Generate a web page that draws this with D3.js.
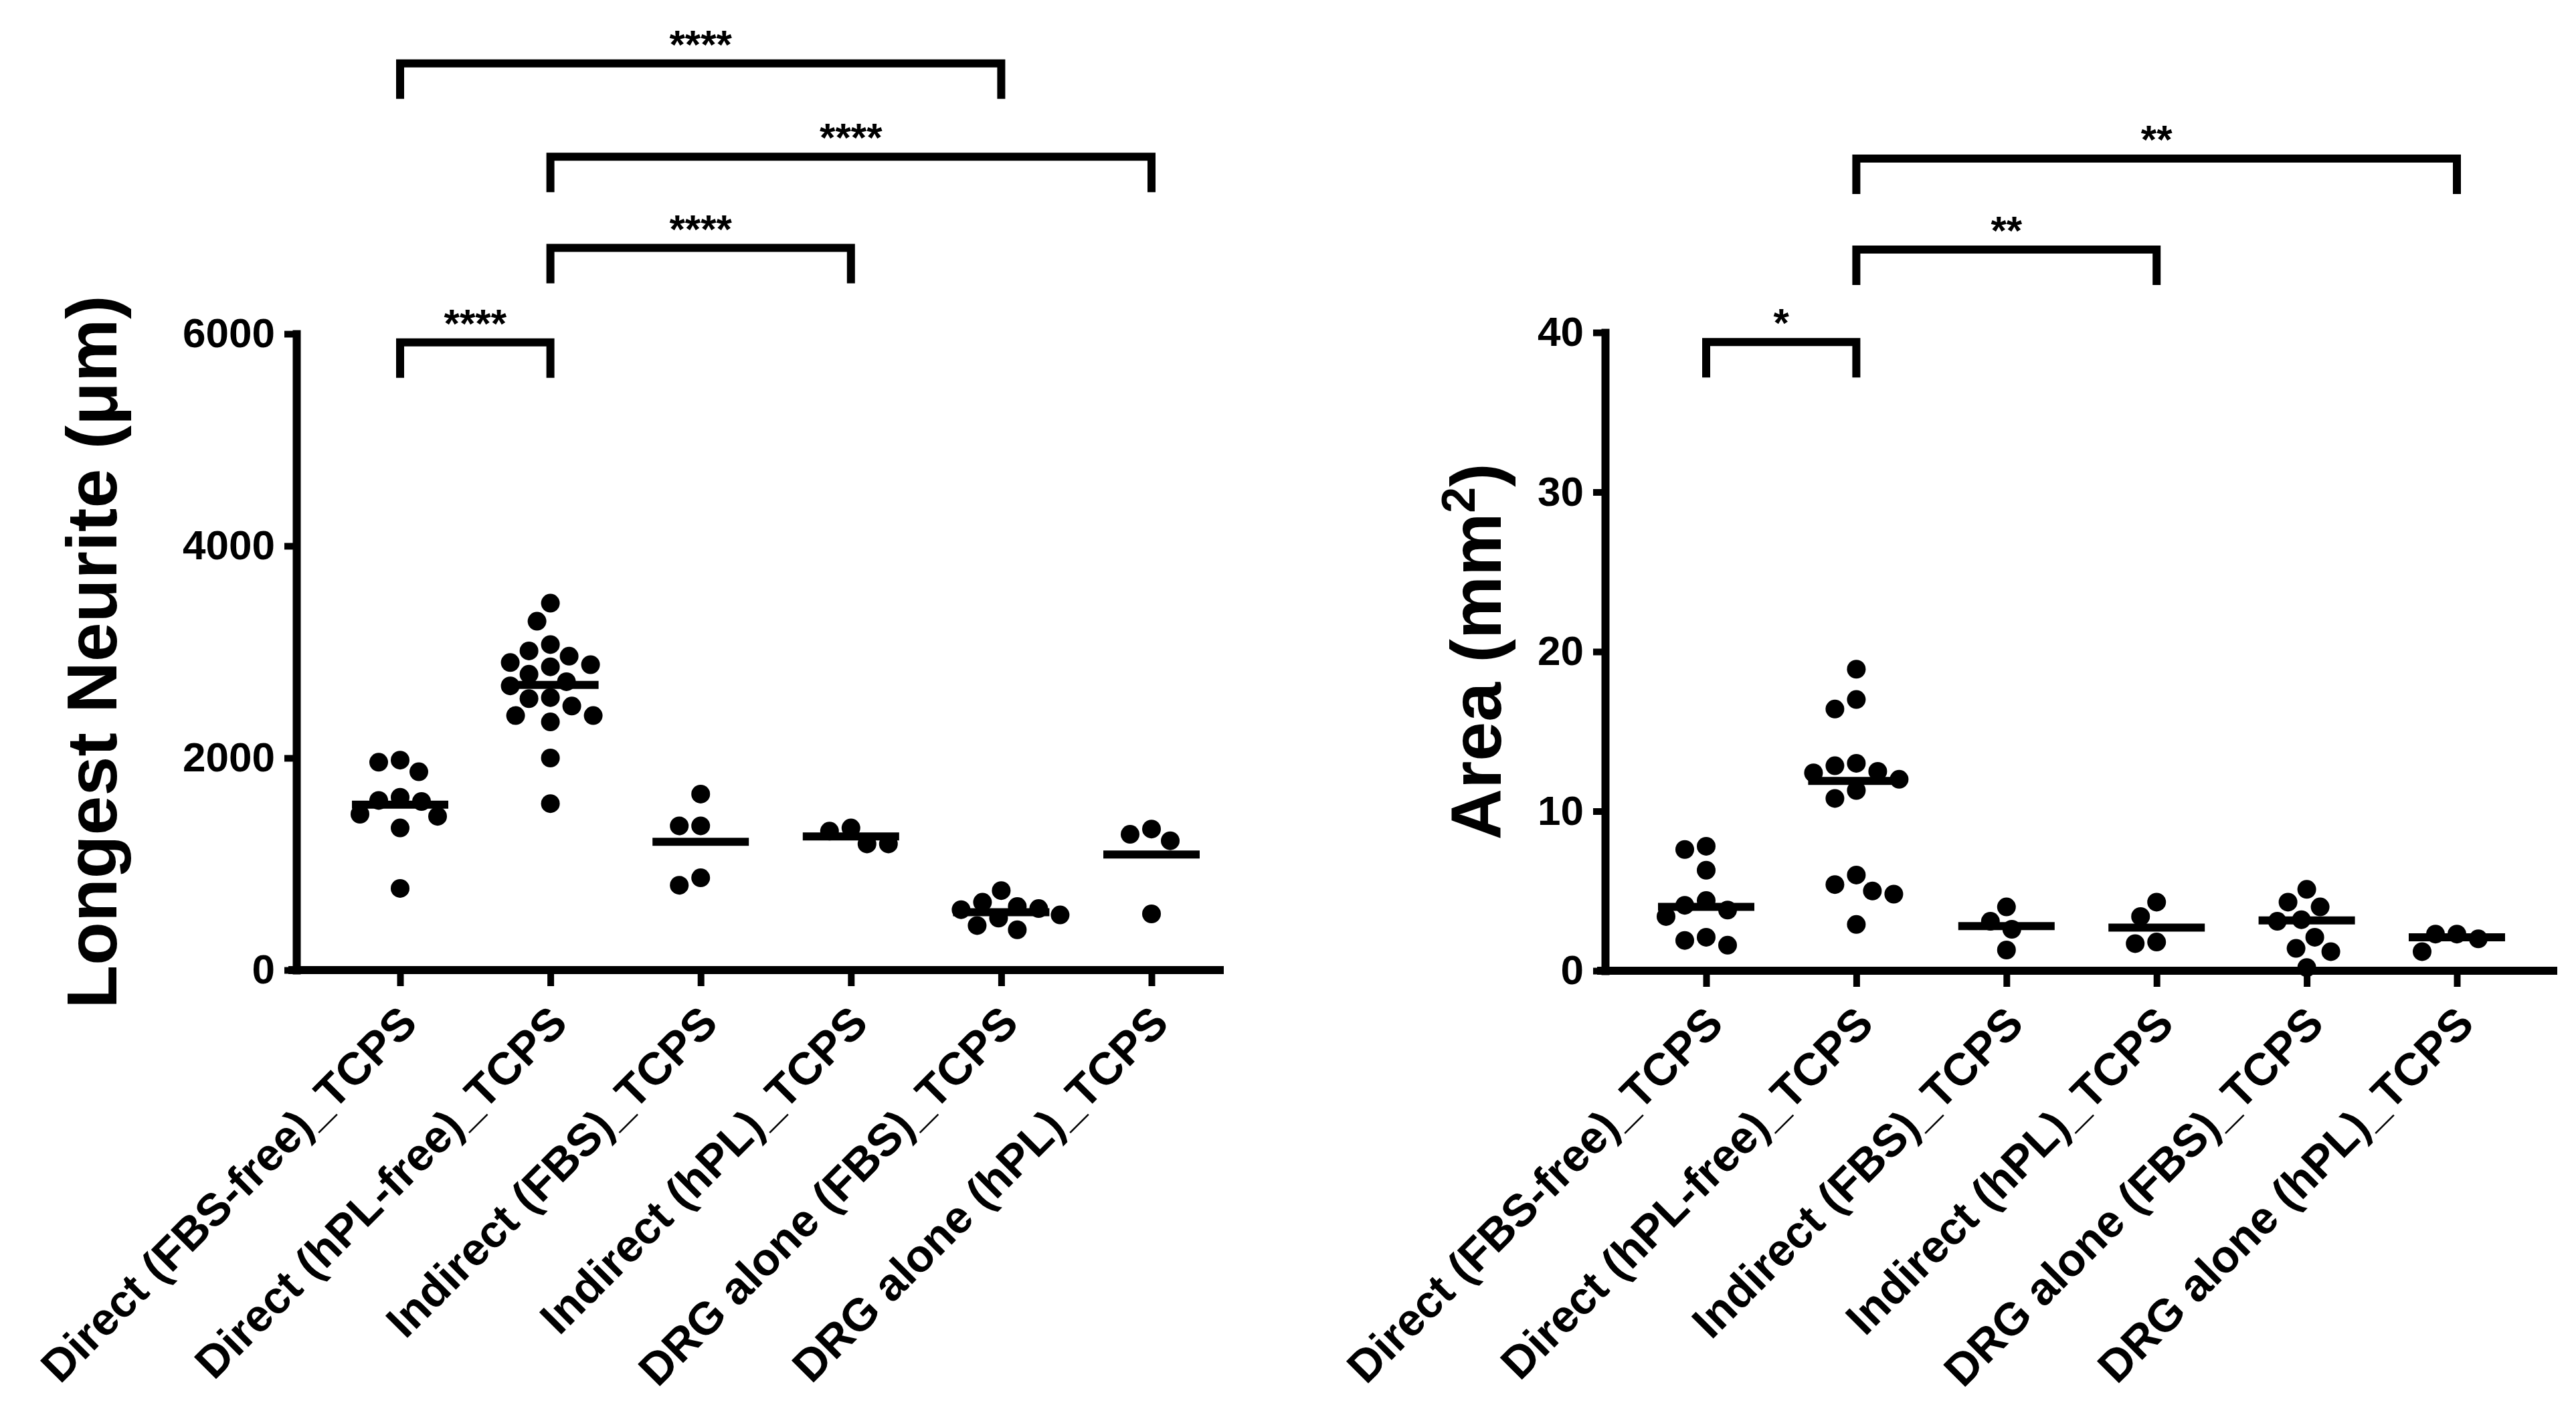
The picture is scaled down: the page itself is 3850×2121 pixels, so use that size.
<!DOCTYPE html>
<html>
<head>
<meta charset="utf-8">
<script src="https://cdn.jsdelivr.net/npm/d3@7/dist/d3.min.js"></script>
<style>
  body { margin: 0; background: #fff; }
  text { font-family: "Liberation Sans", Arial, sans-serif; fill: #000; }
</style>
</head>
<body>
<div id="chart"></div>
<script>
// groups on the x axis (same for both panels)
var categories = [
  "Direct (FBS-free)_TCPS",
  "Direct (hPL-free)_TCPS",
  "Indirect (FBS)_TCPS",
  "Indirect (hPL)_TCPS",
  "DRG alone (FBS)_TCPS",
  "DRG alone (hPL)_TCPS"
];

// left panel: longest neurite (um), one array per group
var neuriteValues = [
  [1960, 1870, 1980, 1630, 1600, 1590, 1470, 1450, 1340, 770],
  [3460, 3290, 3070, 3010, 2960, 2900, 2880, 2860, 2790, 2720, 2680, 2570, 2560, 2490, 2400, 2400, 2340, 2000, 1570],
  [1660, 1360, 1360, 800, 870],
  [1190, 1340, 1190, 1310],
  [750, 580, 600, 640, 570, 490, 420, 380, 520],
  [1330, 1220, 1280, 530]
];
var neuriteCentre = [1560, 2690, 1210, 1260, 545, 1090];
var neuriteTicks = [0, 2000, 4000, 6000];
// [from group, to group, height, label]
var neuriteBrackets = [
  [0, 1, 5920, "****"],
  [1, 3, 6810, "****"],
  [1, 5, 7670, "****"],
  [0, 4, 8550, "****"]
];

// right panel: area (mm2)
var areaValues = [
  [7.8, 7.6, 6.3, 4.4, 4.1, 3.8, 3.4, 2.1, 1.9, 1.6],
  [18.9, 17.0, 16.4, 13.0, 12.85, 12.5, 12.4, 12.0, 11.3, 10.8, 6.0, 5.4, 5.0, 4.8, 2.9],
  [4.0, 3.1, 2.6, 1.3],
  [4.3, 3.4, 1.8, 1.7],
  [5.1, 4.3, 4.0, 3.2, 3.1, 2.1, 1.4, 1.2, 0.2],
  [2.3, 2.3, 2.0, 1.2]
];
var areaCentre = [4.0, 11.9, 2.8, 2.7, 3.15, 2.1];
var areaTicks = [0, 10, 20, 30, 40];
var areaBrackets = [
  [0, 1, 39.4, "*"],
  [1, 3, 45.2, "**"],
  [1, 5, 50.9, "**"]
];

var W = 3850, H = 2121;
var svg = d3.select("#chart").append("svg")
    .attr("width", W)
    .attr("height", H)
    .style("background", "#fff");

var dotR = 14, lineW = 12;

// simple beeswarm so that dots in a group do not sit on each other
function swarm(values, cx, y) {
  var placed = [];
  var pts = values.map(function(v) { return {v: v, y: y(v)}; })
                  .sort(function(a, b) { return a.y - b.y; });
  pts.forEach(function(d) {
    for (var k = 0; k < 200; k++) {
      var off = (k % 2 ? -1 : 1) * Math.ceil(k / 2) * 4;
      var ok = placed.every(function(p) {
        var dx = p.x - (cx + off), dy = p.y - d.y;
        return Math.sqrt(dx * dx + dy * dy) >= 32;
      });
      if (ok) { d.x = cx + off; break; }
    }
    placed.push(d);
  });
  return placed;
}

function drawPanel(p) {
  var y = d3.scaleLinear().domain([0, p.ticks[p.ticks.length - 1]]).range([p.yBottom, p.yTop]);
  var x = d3.scalePoint().domain(categories).range([p.xFirst, p.xLast]);
  var g = svg.append("g");

  // y axis
  var yAxis = d3.axisLeft(y).tickValues(p.ticks).tickFormat(d3.format("d"))
      .tickSize(18).tickSizeOuter(0).tickPadding(14);
  var ya = g.append("g")
      .attr("transform", "translate(" + p.axisX + ",0)")
      .call(yAxis);
  ya.select(".domain").attr("stroke-width", lineW).attr("stroke-linecap", "square");
  ya.selectAll(".tick line").attr("stroke-width", 10);
  ya.selectAll(".tick text")
      .attr("font-size", 62)
      .attr("font-weight", "bold")
      .attr("font-family", '"Liberation Sans", Arial, sans-serif');

  // x axis
  g.append("line")
      .attr("x1", p.axisX - lineW)
      .attr("x2", p.xEnd)
      .attr("y1", y(0))
      .attr("y2", y(0))
      .attr("stroke", "#000")
      .attr("stroke-width", lineW);

  var xa = g.append("g")
      .attr("transform", "translate(0," + y(0) + ")")
      .call(d3.axisBottom(x).tickSize(24).tickFormat(""));
  xa.select(".domain").remove();
  xa.selectAll(".tick line").attr("stroke-width", 10);

  g.selectAll(".xlab")
    .data(categories)
    .enter().append("text")
      .attr("class", "xlab")
      .attr("transform", function(d) { return "translate(" + (x(d) + 12) + "," + (y(0) + 66) + ") rotate(-45)"; })
      .attr("text-anchor", "end")
      .attr("dy", "0.35em")
      .attr("font-size", 68)
      .attr("font-weight", "bold")
      .text(function(d) { return d; });

  // y title
  var title = g.append("text")
      .attr("transform", "translate(" + p.titleX + "," + (p.yTop + p.yBottom) / 2 + ") rotate(-90)")
      .attr("text-anchor", "middle")
      .attr("dy", "0.35em")
      .attr("font-size", 106)
      .attr("font-weight", "bold");
  p.title(title);

  // dots and centre lines
  p.values.forEach(function(vals, i) {
    var cx = x(categories[i]);
    g.selectAll(".dot" + i)
      .data(swarm(vals, cx, y))
      .enter().append("circle")
        .attr("cx", function(d) { return d.x; })
        .attr("cy", function(d) { return d.y; })
        .attr("r", dotR)
        .attr("fill", "#000");
    g.append("line")
        .attr("x1", cx - 72)
        .attr("x2", cx + 72)
        .attr("y1", y(p.centre[i]))
        .attr("y2", y(p.centre[i]))
        .attr("stroke", "#000")
        .attr("stroke-width", lineW);
  });

  // significance brackets
  p.brackets.forEach(function(b) {
    var x1 = x(categories[b[0]]), x2 = x(categories[b[1]]), by = y(b[2]);
    g.append("path")
        .attr("d", "M" + x1 + "," + (by + 53) + "V" + by + "H" + x2 + "V" + (by + 53))
        .attr("fill", "none")
        .attr("stroke", "#000")
        .attr("stroke-width", lineW);
    g.append("text")
        .attr("x", (x1 + x2) / 2)
        .attr("y", by - 8)
        .attr("text-anchor", "middle")
        .attr("font-size", 60)
        .attr("font-weight", "bold")
        .text(b[3]);
  });
}

drawPanel({
  values: neuriteValues, centre: neuriteCentre, ticks: neuriteTicks, brackets: neuriteBrackets,
  axisX: 443, yBottom: 1450, yTop: 499, xFirst: 598, xLast: 1721, xEnd: 1829, titleX: 137,
  title: function(t) { t.text("Longest Neurite (\u03bcm)"); }
});

drawPanel({
  values: areaValues, centre: areaCentre, ticks: areaTicks, brackets: areaBrackets,
  axisX: 2399, yBottom: 1451, yTop: 497, xFirst: 2550, xLast: 3672, xEnd: 3822, titleX: 2206,
  title: function(t) {
    t.append("tspan").text("Area (mm");
    t.append("tspan").attr("baseline-shift", "super").attr("font-size", 70).text("2");
    t.append("tspan").text(")");
  }
});
</script>
</body>
</html>
